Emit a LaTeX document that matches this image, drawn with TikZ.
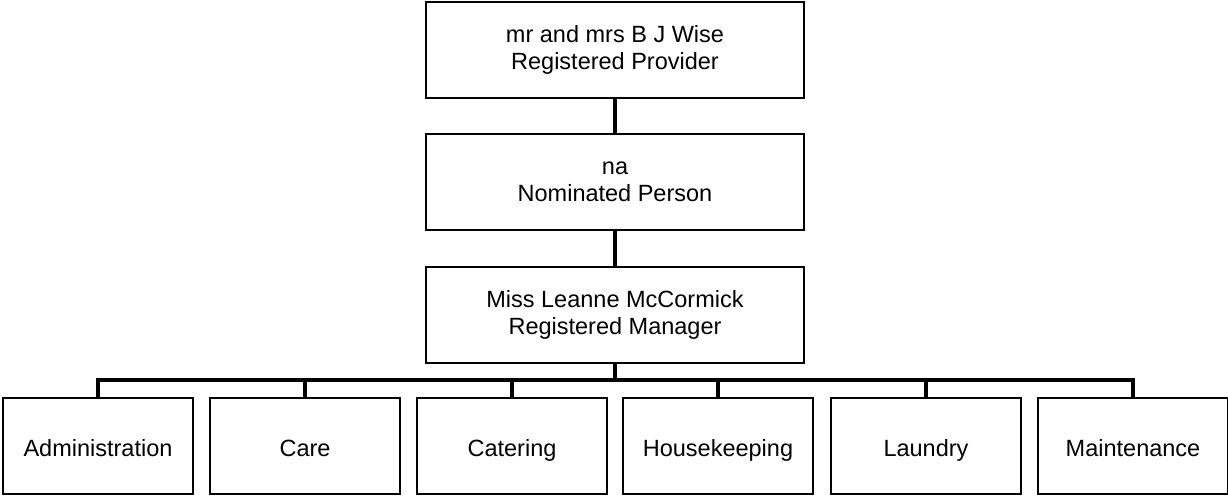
\documentclass[tikz,border=0pt]{standalone}
\usepackage{fontspec}
\setmainfont{Liberation Sans}
\begin{document}
\begin{tikzpicture}[x=1pt,y=-1pt,
  box/.style={draw=black,line width=1.8pt,fill=white,minimum height=96pt,inner sep=0pt,
    font=\fontsize{23.5}{26.5}\selectfont},
  bigbox/.style={box,minimum width=378pt,align=center},
  smallbox/.style={box,minimum width=190pt,text height=20pt,text depth=0pt},
  conn/.style={draw=black,line width=3.2pt}]
\useasboundingbox (0,0) rectangle (1228,495);
\fill[white] (0,0) rectangle (1228,495);
\coordinate (bus) at (0,380);
\node[bigbox] (prov) at (615,50) {mr and mrs B J Wise\\Registered Provider};
\node[bigbox] (nom) at (615,182) {na\\Nominated Person};
\node[bigbox] (mgr) at (615,315) {Miss Leanne McCormick\\Registered Manager};
\node[smallbox] (adm) at (98,446) {Administration};
\node[smallbox] (care) at (305,446) {Care};
\node[smallbox] (cat) at (512,446) {Catering};
\node[smallbox] (hk) at (718,446) {Housekeeping};
\node[smallbox] (lau) at (926,446) {Laundry};
\node[smallbox] (mnt) at (1133,446) {Maintenance};
\draw[conn] (prov.south) -- (nom.north);
\draw[conn] (nom.south) -- (mgr.north);
\foreach \c in {adm,care,cat,hk,lau,mnt}{
  \draw[conn] (mgr.south) -- (mgr.south |- bus) -| (\c.north);
}
\end{tikzpicture}
\end{document}
